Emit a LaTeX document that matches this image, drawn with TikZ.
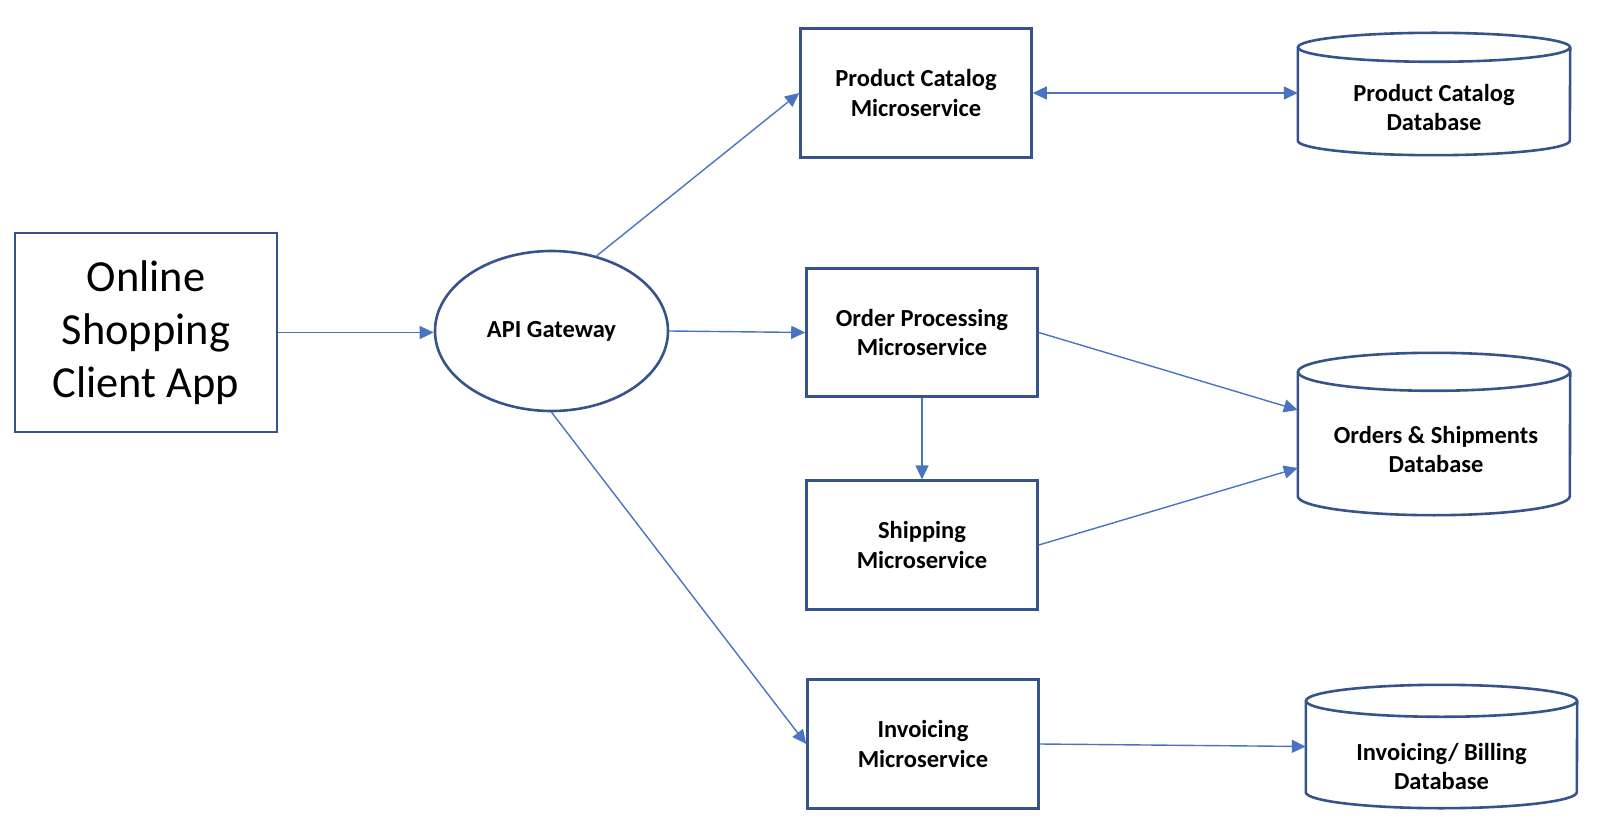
\documentclass[tikz,border=0pt]{standalone}
\usepackage{fontspec}
\setmainfont{Carlito}
\usetikzlibrary{arrows.meta,shapes.geometric,calc}
\definecolor{boxline}{HTML}{35548C}
\definecolor{arrowline}{HTML}{4A74C2}
\tikzset{
  box/.style={draw=boxline, line width=2.6pt, rectangle, align=center, inner sep=0pt},
  msbox/.style={box, minimum width=231pt, minimum height=128.5pt, font=\fontsize{24.5}{29.5}\selectfont\bfseries},
  dbnode/.style={rectangle, inner sep=0pt},
  dbtext/.style={align=center, inner sep=0pt, font=\fontsize{24.5}{29.5}\selectfont\bfseries},
  conn/.style={draw=arrowline, line width=1.4pt, -{Triangle[length=14pt,width=13pt]}},
  conn2/.style={draw=arrowline, line width=1.4pt, {Triangle[length=14pt,width=13pt]}-{Triangle[length=14pt,width=13pt]}},
}
\newcommand\mycyl[3]{%
  \draw[boxline, line width=2.6pt] ($(#1.north)+(0pt,-#2)$) ellipse [x radius=#3, y radius=#2];
  \draw[boxline, line width=2.6pt] ($(#1.north west)+(0pt,-#2)$) -- ($(#1.south west)+(0pt,#2)$)
     arc[start angle=180, end angle=360, x radius=#3, y radius=#2] -- ($(#1.north east)+(0pt,-#2)$);
}
\begin{document}
\begin{tikzpicture}[x=1pt,y=-1pt]
\useasboundingbox (0,0) rectangle (1599,834);

\node[box, minimum width=262pt, minimum height=199pt, font=\fontsize{44.4}{53}\selectfont] (client) at (146,332.5) {Online\\Shopping\\Client App};

\node[draw=boxline, line width=2.6pt, ellipse, minimum width=233pt, minimum height=160pt, inner sep=0pt, font=\fontsize{24.5}{29.5}\selectfont\bfseries] (api) at (551.5,331) {API Gateway};

\node[msbox] (pcms) at (916,93) {Product Catalog\\Microservice};
\node[msbox] (ord) at (922,332.5) {Order Processing\\Microservice};
\node[msbox] (ship) at (922,545) {Shipping\\Microservice};
\node[msbox] (inv) at (923,744) {Invoicing\\Microservice};

\node[dbnode, minimum width=272pt, minimum height=122pt] (pcdb) at (1434,94) {};
\mycyl{pcdb}{14.5pt}{136pt}
\node[dbtext] (pcdbt) at (1434,107.5) {Product Catalog\\Database};

\node[dbnode, minimum width=272pt, minimum height=162pt] (osdb) at (1434,434) {};
\mycyl{osdb}{19pt}{136pt}
\node[dbtext] (osdbt) at (1436,449.5) {Orders \& Shipments\\Database};

\node[dbnode, minimum width=271pt, minimum height=123pt] (invdb) at (1441.5,746.5) {};
\mycyl{invdb}{16pt}{135.5pt}
\node[dbtext] (invdbt) at (1441.5,766.5) {Invoicing/ Billing\\Database};

\draw[conn] (client.east) -- (client.east -| api.west);
\draw[conn] (api.59) -- (pcms.west);
\draw[conn] (api.east) -- (ord.west);
\draw[conn] (api.south) -- (inv.west);
\draw[conn2] (pcms.east) -- (pcms.east -| pcdb.west);
\draw[conn] (ord.east) -- ($(osdb.west)+(0,-24)$);
\draw[conn] (ord.south) -- (ship.north);
\draw[conn] (ship.east) -- ($(osdb.west)+(0,34)$);
\draw[conn] (inv.east) -- (invdb.west);
\end{tikzpicture}
\end{document}
